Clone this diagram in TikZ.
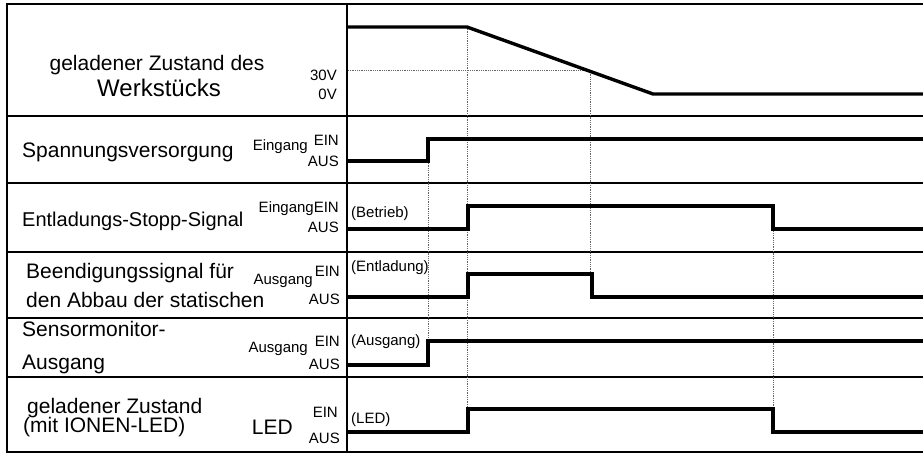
\documentclass[tikz,border=0pt]{standalone}
\usepackage{fontspec}
\setmainfont{Liberation Sans}
\usetikzlibrary{calc}

\begin{document}
\begin{tikzpicture}[x=1bp,y=-1bp,line join=miter,
        frame/.style={line width=2.2bp},
        wave/.style={line width=3.4bp},
        guide/.style={black!60,densely dotted,line width=0.8bp},
        big/.style={font=\fontsize{21bp}{24bp}\selectfont,inner sep=0pt},
        small/.style={font=\fontsize{15bp}{17bp}\selectfont,inner sep=0pt}]
        \useasboundingbox (0,0) rectangle (923,455);

        % draw the frame and the row separators
        \draw[frame] (923,4) -- (7,4) -- (7,452) -- (923,452);
        \draw[frame] (347,4) -- (347,452);
        \foreach \y in {116,183,252,318,377}
                \draw[frame] (7,\y) -- (923,\y);

        % the edges of the signals
        \coordinate (dis) at (467,27);
        \coordinate (lvl) at (590,70);
        \coordinate (pwr) at (428,161);
        \coordinate (stpon) at (468,206);
        \coordinate (stpoff) at (773,206);
        \coordinate (endon) at (468,274);
        \coordinate (endoff) at (592,274);
        \coordinate (mon) at (428,341);
        \coordinate (ledon) at (468,409);
        \coordinate (ledoff) at (773,409);

        % draw the dotted guide lines
        \draw[guide] (348,70) -- (lvl);
        \draw[guide] (dis) -- (dis |- ledon);
        \draw[guide] (lvl) -- (lvl |- endon);
        \draw[guide] (pwr) -- (pwr |- mon);
        \draw[guide] (stpoff) -- (ledoff);

        % draw the signals
        \draw[wave] (347,27) -- (dis) -- (653,94) -- (923,94);
        \draw[wave] (347,161) -- (pwr) -- (428,139) -- (923,139);
        \draw[wave] (347,229) -- (468,229) -- (stpon) -- (stpoff) -- (773,229) -- (923,229);
        \draw[wave] (347,297) -- (468,297) -- (endon) -- (endoff) -- (592,297) -- (923,297);
        \draw[wave] (347,365) -- (428,365) -- (mon) -- (923,341);
        \draw[wave] (347,432) -- (468,432) -- (ledon) -- (ledoff) -- (773,432) -- (923,432);

        % draw the names of the signals
        \node[big,anchor=base] (n1a) at (157,71) {geladener Zustand des};
        \node[big,anchor=base,font=\fontsize{24bp}{28bp}\selectfont] (n1b) at (159,97) {Werkstücks};
        \node[big,anchor=base west] (n2) at (22,158) {Spannungsversorgung};
        \node[big,anchor=base west,font=\fontsize{20bp}{24bp}\selectfont] (n3) at (22,227) {Entladungs-Stopp-Signal};
        \node[big,anchor=base west] (n4a) at (26,279) {Beendigungssignal für};
        \node[big,anchor=base west] (n4b) at (26,308) {den Abbau der statischen};
        \node[big,anchor=base west] (n5a) at (22,337) {Sensormonitor-};
        \node[big,anchor=base west] (n5b) at (22,370) {Ausgang};
        \node[big,anchor=base west] (n6a) at (27,413) {geladener Zustand};
        \node[big,anchor=base west] (n6b) at (23,432) {(mit IONEN-LED)};
        \node[big,anchor=base east] (n6c) at (293,434) {LED};

        % draw the levels
        \foreach \name/\x/\y/\txt in {
            v30/337/81/30V,
            v0/337/100/0V,
            on2/339/146/EIN,
            in2/308/151/Eingang,
            off2/339/167/AUS,
            on3/339/213/EingangEIN,
            off3/339/233/AUS,
            out4/313/285/Ausgang,
            on4/340/277/EIN,
            off4/340/305/AUS,
            out5/308/353/Ausgang,
            on5/340/347/EIN,
            off5/340/370/AUS,
            on6/338/417/EIN,
            off6/340/443/AUS}
                \node[small,anchor=base east] (\name) at (\x,\y) {\txt};

        % draw the states
        \foreach \name/\y/\txt in {
            st3/218/(Betrieb),
            st4/272/(Entladung),
            st5/346/(Ausgang),
            st6/423/(LED)}
                \node[small,anchor=base west] (\name) at (351,\y) {\txt};
\end{tikzpicture}
\end{document}
